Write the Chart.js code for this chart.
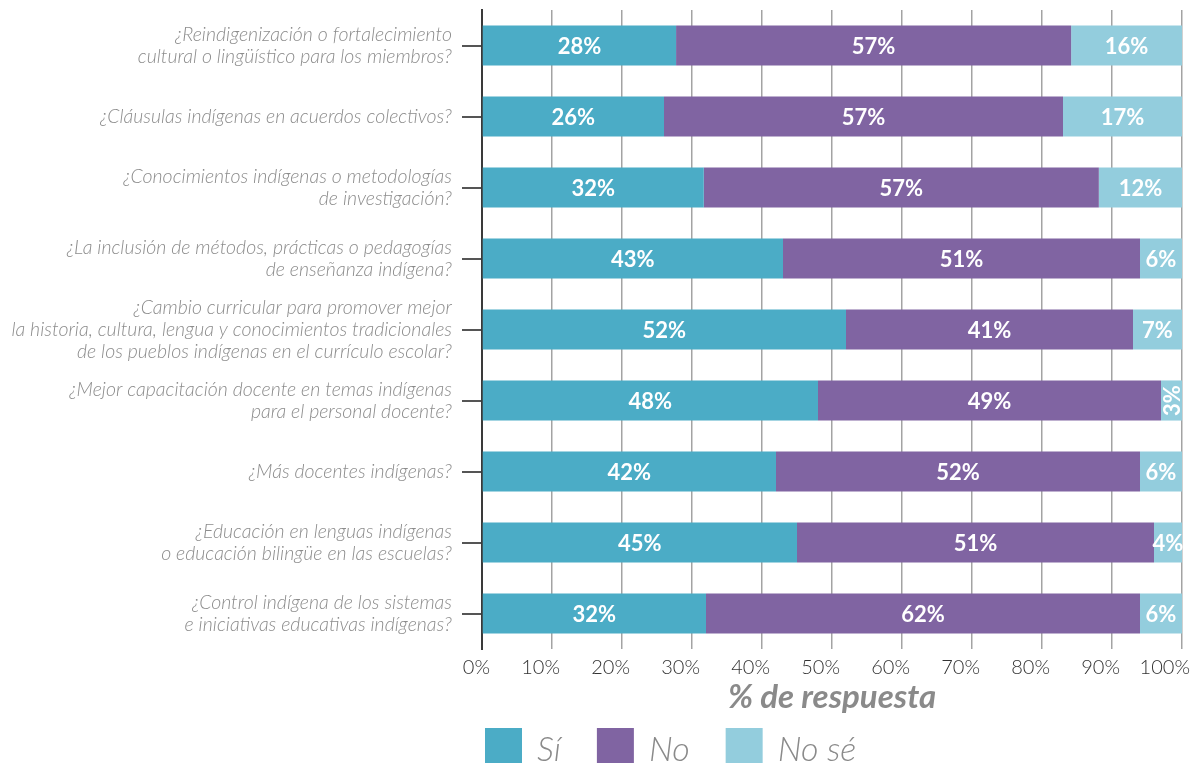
<!DOCTYPE html>
<html>
<head>
<meta charset="utf-8">
<script src="https://cdn.jsdelivr.net/npm/chart.js@4/dist/chart.umd.min.js"></script>
<style>
html, body { margin: 0; padding: 0; background: #fff; overflow: hidden; }
</style>
</head>
<body>
<canvas id="grafico" width="1196" height="763"></canvas>
<script>
// preguntas (una línea por elemento)
const preguntas = [
  ["¿Reindigenización o fortalecimiento", "cultural o lingüístico para los miembros?"],
  "¿Cláusulas indígenas en acuerdos colectivos?",
  ["¿Conocimientos indígenas o metodologías", "de investigación?"],
  ["¿La inclusión de métodos, prácticas o pedagogías", "de enseñanza indígena?"],
  ["¿Cambio curricular para promover mejor", "la historia, cultura, lengua y conocimientos tradicionales", "de los pueblos indígenas en el currículo escolar?"],
  ["¿Mejor capacitación docente en temas indígenas", "para el personal docente?"],
  "¿Más docentes indígenas?",
  ["¿Educación en lenguas indígenas", "o educación bilingüe en las escuelas?"],
  ["¿Control indígena de los sistemas", "e iniciativas educativas indígenas?"]
];

const si   = [28, 26, 32, 43, 52, 48, 42, 45, 32];
const no   = [57, 57, 57, 51, 41, 49, 52, 51, 62];
const noSe = [16, 17, 12,  6,  7,  3,  6,  4,  6];

const series = ["Sí", "No", "No sé"];
const colores = ["#4BACC6", "#8064A2", "#93CDDD"];

// los valores redondeados no siempre suman 100, se reparten sobre el total
const totales = si.map((v, i) => v + no[i] + noSe[i]);
const reparto = arr => arr.map((v, i) => v / totales[i] * 100);

// etiquetas blancas dentro de cada segmento
const etiquetas = {
  id: "etiquetas",
  afterDatasetsDraw(chart) {
    const ctx = chart.ctx;
    ctx.save();
    ctx.fillStyle = "#fff";
    ctx.font = "bold 22px Lato";
    ctx.textAlign = "center";
    ctx.textBaseline = "middle";
    chart.data.datasets.forEach((ds, d) => {
      chart.getDatasetMeta(d).data.forEach((bar, i) => {
        const txt = ds.valores[i] + "%";
        const ancho = Math.abs(bar.x - bar.base);
        const cx = (bar.x + bar.base) / 2;
        if (ctx.measureText(txt).width > ancho + 4) {
          ctx.save();
          ctx.translate(cx, bar.y);
          ctx.rotate(-Math.PI / 2);
          ctx.fillText(txt, 0, 1);
          ctx.restore();
        } else {
          ctx.fillText(txt, cx, bar.y + 1);
        }
      });
    });
    ctx.restore();
  }
};

// leyenda abajo, alineada con el eje
const leyenda = {
  id: "leyenda",
  afterDraw(chart) {
    const ctx = chart.ctx;
    let x = chart.chartArea.left + 3;
    const y = 728;
    ctx.save();
    ctx.font = "italic 300 34px Lato";
    ctx.textBaseline = "alphabetic";
    ctx.textAlign = "left";
    chart.data.datasets.forEach(ds => {
      ctx.fillStyle = ds.backgroundColor;
      ctx.fillRect(x, y, 37, 37);
      ctx.fillStyle = "#8a8a8a";
      ctx.fillText(ds.label, x + 52, y + 33);
      x += 52 + ctx.measureText(ds.label).width + 36;
    });
    ctx.restore();
  }
};

new Chart(document.getElementById("grafico"), {
  type: "bar",
  data: {
    labels: preguntas,
    datasets: [
      { label: series[0], data: reparto(si),   valores: si,   backgroundColor: colores[0] },
      { label: series[1], data: reparto(no),   valores: no,   backgroundColor: colores[1] },
      { label: series[2], data: reparto(noSe), valores: noSe, backgroundColor: colores[2] }
    ]
  },
  options: {
    indexAxis: "y",
    responsive: false,
    animation: false,
    layout: { padding: { top: 10, right: 14, left: 0, bottom: 50 } },
    datasets: { bar: { barPercentage: 0.565, categoryPercentage: 1 } },
    plugins: {
      legend: { display: false },
      tooltip: { enabled: false }
    },
    scales: {
      x: {
        stacked: true,
        min: 0,
        max: 100,
        afterFit: s => { s.height = 64; },
        ticks: {
          stepSize: 10,
          callback: v => v + "%",
          align: "end",
          labelOffset: 8,
          padding: 7,
          color: "#333",
          font: { family: "Lato", weight: "300", size: 20 }
        },
        grid: { color: "#a3a3a3", lineWidth: 1.5, drawTicks: false },
        border: { display: false },
        title: {
          display: true,
          text: "% de respuesta",
          color: "#8a8a8a",
          padding: { top: 0, bottom: -4 },
          font: { family: "Lato", style: "italic", weight: "bold", size: 33 }
        }
      },
      y: {
        stacked: true,
        afterFit: s => { s.width = 482; s.paddingTop = 0; s.paddingBottom = 0; },
        ticks: {
          autoSkip: false,
          padding: 10,
          color: "#8c8c8c",
          font: { family: "Lato", style: "italic", weight: "300", size: 19.5, lineHeight: 1.12 }
        },
        grid: { drawOnChartArea: false, drawTicks: true, tickLength: 20, offset: false, color: "#555", lineWidth: 2 },
        border: { display: true, color: "#3a3a3a", width: 2 }
      }
    }
  },
  plugins: [etiquetas, leyenda]
});
</script>
</body>
</html>
